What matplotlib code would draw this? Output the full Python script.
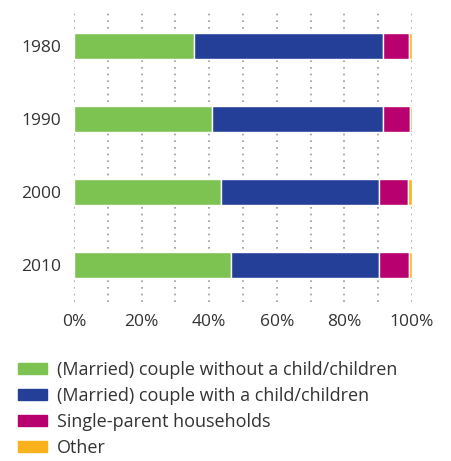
import matplotlib.pyplot as plt
import matplotlib.patches as mpatches
import numpy as np

plt.rcParams['font.family'] = ['Open Sans', 'DejaVu Sans']

years = ['1980', '1990', '2000', '2010']
without_child = [35.5, 40.8, 43.5, 46.4]
with_child = [55.9, 50.6, 46.7, 43.7]
single_parent = [7.7, 7.9, 8.5, 8.9]
other = [0.9, 0.7, 1.3, 1.0]

labels = ['(Married) couple without a child/children',
          '(Married) couple with a child/children',
          'Single-parent households',
          'Other']
colors = ['#7DC352', '#233F98', '#B8006E', '#F9B21B']

fig = plt.figure(figsize=(4.51, 4.61), dpi=100)
ax = fig.add_axes([0.164, 0.345, 0.7495, 0.627])

y = np.arange(len(years))
left = np.zeros(len(years))
for vals, col in zip([without_child, with_child, single_parent, other], colors):
    ax.barh(y, vals, left=left, height=0.36, color=col, edgecolor='white', linewidth=1)
    left += np.array(vals)

ax.set_xlim(0, 100)
ax.set_ylim(3.51, -0.45)
ax.set_yticks(y)
ax.set_yticklabels(years)
ax.set_xticks(np.arange(0, 101, 20))
ax.set_xticklabels([f'{v}%' for v in range(0, 101, 20)])
ax.set_xticks(np.arange(0, 101, 10), minor=True)
ax.tick_params(length=0, which='both', labelsize=12.5, colors='#333333', pad=9)
ax.grid(axis='x', which='both', color='#999999', linestyle=(0, (1, 3.0)), linewidth=1.2)
ax.set_axisbelow(True)
for s in ax.spines.values():
    s.set_visible(False)

handles = [mpatches.Patch(color=c) for c in colors]
fig.legend(handles, labels, loc='upper left', bbox_to_anchor=(0.04, 0.218),
           frameon=False, fontsize=13, handlelength=1.6, handleheight=0.55,
           handletextpad=0.55, labelspacing=0.45, labelcolor='#333333',
           borderaxespad=0, borderpad=0)

fig.savefig('out.png', dpi=100)
